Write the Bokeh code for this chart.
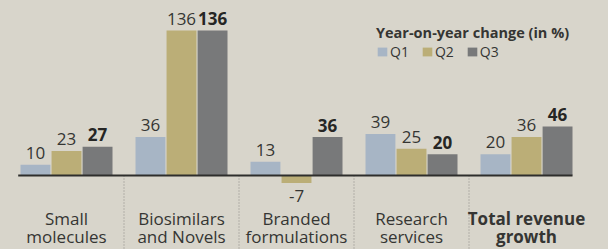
from bokeh.plotting import figure
from bokeh.models import ColumnDataSource, Range1d, Legend, LegendItem
from bokeh.transform import dodge
from bokeh.core.properties import value
from bokeh.embed import file_html
from bokeh.resources import INLINE

# ---- data ----
cat_line1 = ["Small", "Biosimilars", "Branded", "Research", "Total revenue"]
cat_line2 = ["molecules", "and Novels", "formulations", "services", "growth"]
cat_bold = [False, False, False, False, True]
q1 = [10, 36, 13, 39, 20]
q2 = [23, 136, -7, 25, 36]
q3 = [27, 136, 36, 20, 46]
series = ["Q1", "Q2", "Q3"]
legend_title = "Year-on-year change (in %)"

# ---- style ----
colors = ["#a7b5c5", "#bbae77", "#78797a"]
BG = "#d8d5cb"
TXT = "#353533"
FONT = "Open Sans"
W, H = 608, 249
CAT_PX = 115.0      # px per category
FIRST_CX = 66.0     # px of first category centre
PPU = 1.066         # px per % unit
BASE = 175.0        # px of the zero line from top
BAR_W = 0.26
OFFS = [-0.27, 0.0, 0.27]
TSHIFT = 7          # renderer baseline correction (px)

n = len(q1)
xs = list(range(n))
src = ColumnDataSource(dict(x=xs, Q1=q1, Q2=q2, Q3=q3))

x0 = -FIRST_CX / CAT_PX
p = figure(width=W, height=H, output_backend="svg", toolbar_location=None,
           x_range=Range1d(x0, x0 + W / CAT_PX),
           y_range=Range1d(-(H - BASE) / PPU, BASE / PPU),
           min_border=0, outline_line_color=None,
           background_fill_color=BG, border_fill_color=BG)
p.title.visible = False
p.axis.visible = False
p.grid.visible = False

def py(px):
    """screen px from top -> data y"""
    return (BASE - px) / PPU

# dividers below the baseline
p.segment(x0=[i + 0.5 for i in range(n - 1)], x1=[i + 0.5 for i in range(n - 1)],
          y0=0, y1=py(H), line_color="#8c8a84", line_width=1, line_dash="1 2")

renderers = []
for s, off, col in zip(series, OFFS, colors):
    r = p.vbar(x=dodge("x", off, range=p.x_range), top=s, bottom=0, width=BAR_W,
               source=src, fill_color=col, line_color=None)
    renderers.append(r)

# baseline
p.segment(x0=[-0.42], x1=[n - 1 + 0.40], y0=[0], y1=[0],
          line_color="#2e2e2c", line_width=2)

# value labels
for s, off, vals in zip(series, OFFS, [q1, q2, q3]):
    ly = [v + (5 + TSHIFT) / PPU if v >= 0 else v - (20 - TSHIFT) / PPU for v in vals]
    lsrc = ColumnDataSource(dict(x=[i + off for i in xs], y=ly, t=[str(v) for v in vals]))
    p.text(x="x", y="y", text="t", source=lsrc, text_align="center",
           text_baseline="alphabetic", text_font=value(FONT), text_font_size="17px",
           text_font_style="bold" if s == "Q3" else "normal",
           text_color="#262624" if s == "Q3" else TXT)

# category labels
for i in xs:
    st = "bold" if cat_bold[i] else "normal"
    p.text(x=[i], y=[py(225 - TSHIFT)], text=[cat_line1[i]], text_align="center",
           text_baseline="alphabetic", text_font=value(FONT), text_font_size="17px",
           text_font_style=st, text_color=TXT)
    p.text(x=[i], y=[py(243 - TSHIFT)], text=[cat_line2[i]], text_align="center",
           text_baseline="alphabetic", text_font=value(FONT), text_font_size="17px",
           text_font_style=st, text_color=TXT)

legend = Legend(items=[LegendItem(label=s, renderers=[r]) for s, r in zip(series, renderers)],
                orientation="horizontal", location=(376, 188),
                title=legend_title, title_text_font=FONT, title_text_font_style="bold",
                title_text_font_size="14.5px", title_text_color=TXT, title_standoff=0,
                label_text_font=FONT, label_text_font_size="14px", label_text_color=TXT,
                glyph_width=12, glyph_height=11, label_standoff=2, label_width=10,
                spacing=12, padding=0, margin=0,
                background_fill_alpha=0, border_line_color=None)
p.add_layout(legend, "center")

html = file_html(p, INLINE)
html = html.replace("<head>",
                    "<head><style>html,body{margin:0;padding:0;overflow:hidden;background:%s;}</style>" % BG, 1)
open("out.html", "w").write(html)
